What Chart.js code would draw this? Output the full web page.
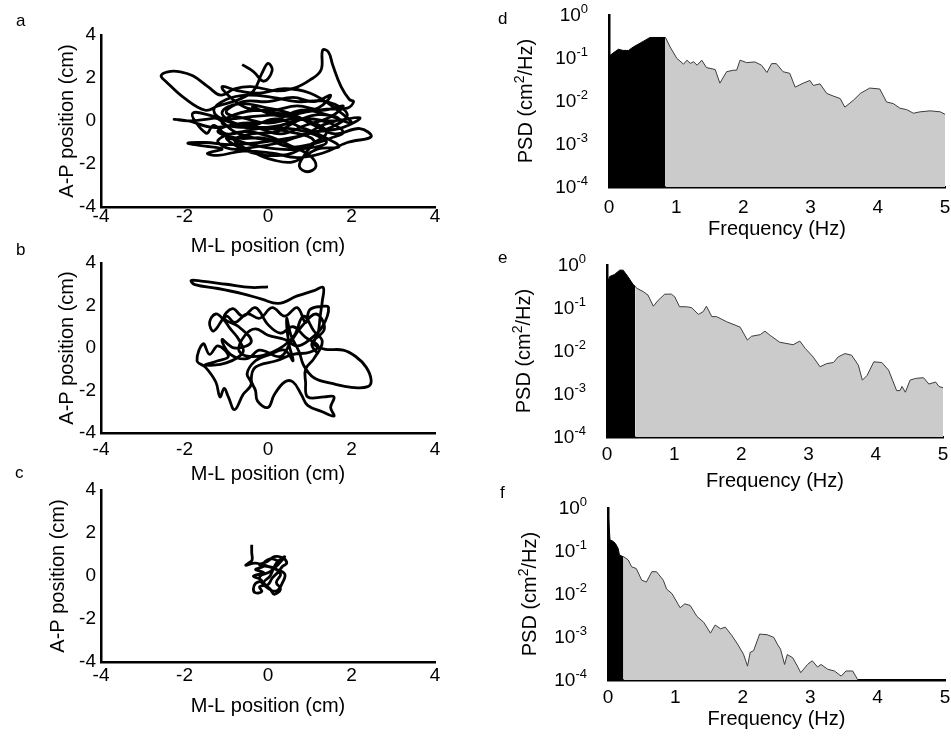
<!DOCTYPE html>
<html>
<head>
<meta charset="utf-8">
<script src="https://cdn.jsdelivr.net/npm/chart.js@4.4.1/dist/chart.umd.min.js"></script>
<style>
body { margin: 0; background: #fff; width: 951px; height: 737px; overflow: hidden; position: relative; font-family: "Liberation Sans", Arial, sans-serif; }
canvas { position: absolute; left: 0; top: 0; }
.letter { position: absolute; font-size: 17px; color: #000; line-height: 1; }
</style>
</head>
<body>
<canvas id="pa" width="951" height="737"></canvas>
<canvas id="pb" width="951" height="737"></canvas>
<canvas id="pc" width="951" height="737"></canvas>
<canvas id="pd" width="951" height="737"></canvas>
<canvas id="pe" width="951" height="737"></canvas>
<canvas id="pf" width="951" height="737"></canvas>
<div class="letter" style="left:16px;top:12px">a</div>
<div class="letter" style="left:16px;top:241px">b</div>
<div class="letter" style="left:15px;top:464px">c</div>
<div class="letter" style="left:498px;top:10px">d</div>
<div class="letter" style="left:498px;top:249px">e</div>
<div class="letter" style="left:500px;top:484px">f</div>
<script>
// tick labels
var trajTicks = [-4, -2, 0, 2, 4];
var freqTicks = [0, 1, 2, 3, 4, 5];
var psdExp = [0, -1, -2, -3, -4];

// a: COP trajectory (cm)
var aX = [-0.62,-0.35,-0.10,0.10,0.00,-0.15,-0.35,-0.70,-1.20,-1.50,-2.00,-2.44,-2.56,-2.40,-2.10,-1.80,-1.44,-1.13,-0.80,-0.40,
  0.20,0.63,1.00,1.27,1.31,1.45,1.55,1.75,1.95,2.05,1.90,1.40,0.80,0.20,-0.40,-1.00,-1.80,-1.48,-1.30,-1.00,
  -0.40,0.30,0.90,1.50,2.20,1.80,1.20,0.50,-0.20,-0.90,-1.50,-1.92,-1.60,-1.10,-1.45,-1.20,-0.60,0.10,0.70,1.30,
  1.90,2.47,2.20,1.60,1.10,0.60,0.00,-0.70,-1.10,-0.80,-0.20,0.50,1.10,0.90,0.75,0.95,1.15,1.00,0.60,0.00,
  -0.60,-1.20,-0.90,-0.30,0.30,0.90,1.50,1.90,1.40,0.70,0.10,-0.50,-1.00,-1.30,-1.00,-0.40,0.20,0.80,1.30,1.70,
  1.20,0.60,0.10,-0.30,-0.80,-0.40,0.20,0.70,1.20,1.70,1.30,0.80,0.30,-0.30,-0.80,-1.20,-1.40,-1.85,-2.25,-1.90,
  -1.30,-0.60,0.10,0.80,1.40,2.00,1.60,1.00,0.40,-0.20,-0.70,-1.10,-0.90,-0.50,0.10,0.70,1.30,1.80,1.50,0.90,
  0.30,-0.30,-0.90,-1.20,-0.70,-0.10,0.50,1.00,1.50,1.80,1.30,0.60,0.00,-0.50,-1.00,-0.60,0.00,0.60,1.10,1.50,
  1.20,0.50,-0.20,-0.80,-1.10,-0.60,0.20,0.90,1.40,0.80,0.20,-0.40,-1.00,-0.50,0.30,0.90,1.40,0.80,0.10,-0.40];
var aY = [2.62,2.30,1.85,2.35,2.68,2.20,1.40,1.00,0.70,0.50,1.06,1.83,2.10,2.29,2.29,2.10,1.60,1.20,1.50,1.60,
  1.40,1.53,1.90,2.37,3.30,3.20,2.60,1.60,1.00,0.90,0.60,0.55,0.40,0.30,0.20,0.10,0.37,-0.57,-0.20,-0.60,
  -0.40,-0.20,0.10,0.00,0.15,-0.30,-0.50,-0.80,-1.00,-1.10,-1.00,-1.03,-1.15,-1.30,-1.50,-1.60,-1.40,-1.50,-1.70,-1.50,
  -1.00,-0.73,-0.35,-0.60,-0.20,0.30,0.60,0.80,0.40,-0.10,-0.30,-0.50,-0.90,-1.50,-2.10,-2.36,-2.10,-1.60,-1.20,-0.70,
  -0.50,-0.90,-1.30,-1.20,-1.00,-0.60,-0.30,0.30,0.90,0.90,1.10,1.20,1.00,0.50,0.00,-0.20,0.10,-0.30,-0.70,-1.20,
  -1.30,-1.90,-1.80,-1.50,-0.90,-0.60,-0.50,0.00,0.30,0.10,-0.20,-0.70,-0.90,-0.80,-0.50,0.10,0.10,0.00,0.08,0.00,
  -0.30,-0.10,0.00,0.50,0.30,-0.10,0.60,1.30,1.50,1.30,1.40,1.60,1.10,0.60,0.50,0.70,0.50,0.70,0.20,-0.20,
  -0.60,-0.30,-0.20,-0.50,-0.80,-0.80,-1.20,-1.10,-0.80,-0.50,0.00,0.10,-0.10,0.10,0.40,0.90,0.90,1.10,0.90,1.20,
  0.60,0.30,0.50,0.30,-0.10,-0.30,-0.30,-0.50,-1.00,-1.30,-1.30,-1.10,-0.80,-1.40,-1.60,-1.20,-0.50,0.10,0.30,0.70];

// b
var bX = [0.00,-0.40,-1.00,-1.60,-1.84,-1.75,-1.20,-0.60,-0.15,0.25,0.70,1.10,1.32,1.30,1.25,1.20,1.10,1.35,1.80,2.10,
  2.35,2.47,2.39,2.00,1.60,1.10,0.85,0.75,0.55,0.45,0.50,0.60,0.40,0.05,-0.30,-0.50,-0.40,-0.60,-0.80,-0.95,
  -1.05,-1.15,-1.25,-1.50,-1.70,-1.55,-1.40,-1.20,-0.95,-1.20,-1.50,-1.00,-0.60,-0.70,-0.90,-1.05,-1.25,-1.40,-1.30,-1.00,
  -0.80,-0.50,-0.20,0.10,0.40,0.70,0.90,1.00,1.25,1.45,1.30,1.00,0.70,0.40,0.00,-0.30,-0.55,-0.70,-0.45,0.10,
  0.60,0.85,1.10,1.30,1.10,0.90,0.90,0.95,1.35,1.58,1.50,1.58,1.30,0.95,0.80,0.60,0.40,0.15,0.00,-0.25,
  -0.30,-0.40,-0.30,0.20,0.60,1.00,1.20,0.90,0.60,0.30,0.00,-0.30,-0.60,-0.85,-1.05,-0.70,-0.40,-0.80,-1.10,-0.90,
  -0.50,-0.20,0.30,0.55,0.80,1.15,1.35,1.05,1.20];
var bY = [2.88,2.85,3.00,3.15,3.18,2.98,2.80,2.55,2.30,2.10,2.45,2.70,2.85,2.20,1.50,0.70,0.20,-0.05,-0.10,-0.40,
  -0.90,-1.50,-1.82,-1.85,-1.70,-1.40,-0.80,-0.20,0.60,1.40,0.20,-0.60,-0.10,-0.30,-0.60,-1.20,-1.70,-2.20,-2.90,-2.30,
  -1.90,-2.30,-1.60,-0.90,-0.60,0.20,-0.30,0.10,-0.40,-0.60,-0.80,-0.70,-0.20,0.40,0.90,1.30,1.60,1.20,0.80,1.50,
  1.20,1.60,1.40,1.90,1.50,1.90,1.20,1.80,1.95,1.90,1.00,0.40,0.10,0.40,0.60,0.90,0.60,-0.10,-0.40,-0.20,
  0.50,1.50,0.80,0.30,-0.50,-1.00,-1.60,-2.30,-2.30,-2.30,-2.80,-3.20,-3.00,-2.70,-2.20,-1.60,-1.60,-2.20,-2.80,-2.50,
  -2.00,-1.50,-0.90,-0.60,-0.30,-0.20,0.10,0.50,1.00,0.70,1.10,1.90,1.50,1.85,1.40,1.00,0.30,0.00,0.40,-0.30,
  -0.50,-0.10,-0.40,0.30,1.00,1.60,0.90,0.20,-0.30];

// c
var cX = [-0.39,-0.39,-0.38,-0.45,-0.53,-0.30,-0.10,-0.30,-0.10,-0.35,-0.15,-0.30,-0.35,-0.30,-0.15,-0.20,0.00,0.10,0.25,0.35,
  0.45,0.35,0.15,0.00,-0.20,0.10,0.30,0.20,0.30,0.15,0.05,-0.10,0.05,0.20,0.40,0.25,0.05,-0.20,-0.05,0.20,
  0.35,0.40,0.15,-0.10,0.05,0.25];
var cY = [1.45,1.10,0.75,0.62,0.50,0.60,0.45,0.30,0.15,0.00,-0.20,-0.35,-0.60,-0.78,-0.72,-0.50,-0.40,-0.10,0.20,0.45,
  0.60,0.85,0.90,0.70,0.50,0.40,0.10,-0.30,-0.60,-0.85,-0.60,-0.30,0.00,0.60,0.90,0.55,0.20,-0.05,-0.50,-0.70,
  -0.30,0.10,0.35,0.55,0.80,0.70];

// d: PSD (cm^2/Hz), low band (black) and high band (grey)
var dLowF = [0.00,0.06,0.14,0.21,0.29,0.36,0.46,0.54,0.61,0.84];
var dLowP = [0.11,0.13,0.16,0.15,0.15,0.18,0.22,0.26,0.30,0.30];
var dHighF = [0.84,0.91,1.01,1.11,1.16,1.21,1.26,1.31,1.38,1.45,1.58,1.65,1.75,1.85,1.90,1.95,2.05,2.17,2.27,2.35,
  2.42,2.49,2.59,2.69,2.77,2.89,2.99,3.04,3.14,3.24,3.34,3.44,3.51,3.64,3.74,3.88,4.03,4.13,4.23,4.33,
  4.43,4.53,4.63,4.78,4.93,5.00];
var dHighP = [0.30,0.18,0.098,0.072,0.089,0.075,0.082,0.068,0.089,0.060,0.054,0.026,0.048,0.052,0.052,0.089,0.078,0.081,0.068,0.046,
  0.074,0.074,0.048,0.044,0.021,0.026,0.030,0.023,0.025,0.015,0.013,0.0114,0.0072,0.0105,0.015,0.020,0.019,0.0095,0.0087,0.0068,
  0.0063,0.0052,0.0056,0.0059,0.0056,0.0049];

// e
var eLowF = [0.00,0.04,0.11,0.19,0.24,0.31,0.39,0.42];
var eLowP = [0.37,0.54,0.60,0.76,0.76,0.54,0.35,0.32];
var eHighF = [0.42,0.44,0.54,0.61,0.69,0.76,0.86,0.96,1.01,1.08,1.18,1.26,1.36,1.43,1.48,1.56,1.63,1.78,1.98,2.09,
  2.15,2.28,2.35,2.43,2.57,2.77,2.87,2.95,3.07,3.17,3.27,3.37,3.44,3.54,3.64,3.74,3.80,3.87,3.97,4.09,
  4.19,4.26,4.31,4.36,4.39,4.44,4.51,4.59,4.71,4.79,4.89,4.94,5.00];
var eHighP = [0.32,0.29,0.24,0.20,0.11,0.15,0.21,0.21,0.18,0.107,0.107,0.102,0.071,0.082,0.11,0.063,0.063,0.048,0.036,0.018,
  0.022,0.024,0.029,0.023,0.016,0.014,0.017,0.0115,0.0072,0.0043,0.0051,0.0054,0.0073,0.0087,0.0080,0.0047,0.0021,0.0027,0.0056,0.0054,
  0.0036,0.0019,0.0012,0.0012,0.0015,0.0011,0.0021,0.0023,0.0024,0.0017,0.0019,0.0015,0.0014];

// f
var fLowF = [0.00,0.03,0.07,0.11,0.15,0.17,0.22,0.23];
var fLowP = [0.90,0.18,0.17,0.15,0.115,0.081,0.074,0.074];
var fHighF = [0.23,0.30,0.35,0.42,0.50,0.57,0.65,0.72,0.82,0.87,0.95,1.07,1.14,1.22,1.32,1.42,1.52,1.59,1.67,1.74,
  1.84,1.92,2.01,2.07,2.11,2.16,2.25,2.36,2.46,2.51,2.56,2.62,2.66,2.74,2.81,2.86,2.96,3.03,3.11,3.16,
  3.26,3.36,3.46,3.53,3.63,3.70,3.75,5.00];
var fHighP = [0.074,0.062,0.043,0.039,0.021,0.019,0.033,0.033,0.021,0.013,0.0102,0.0048,0.0059,0.0054,0.0030,0.0022,0.00123,0.0019,0.00155,0.0017,
  0.00107,0.00069,0.00040,0.00021,0.00044,0.00048,0.00117,0.00113,0.00098,0.00069,0.00052,0.00023,0.00039,0.00033,0.00021,0.000148,0.00023,0.00028,0.00020,0.00023,
  0.000178,0.000162,0.000123,0.000162,0.000162,0.000105,0.00008,0.00008];

var FONT = '"Liberation Sans", Arial, sans-serif';

function pts(xs, ys) {
    return xs.map(function(x, i) { return {x: x, y: ys[i]}; });
}

// draws tick labels and axis titles from the chart's own scales
var axisText = {
    id: 'axisText',
    afterDraw: function(chart, args, o) {
        var ctx = chart.ctx, xs = chart.scales.x, ys = chart.scales.y;
        ctx.save();
        ctx.fillStyle = '#000';
        ctx.textBaseline = 'middle';
        ctx.font = '19px ' + FONT;
        ctx.textAlign = 'center';
        o.xTicks.forEach(function(v) {
            ctx.fillText(String(v), xs.getPixelForValue(v), o.xTickY);
        });
        var right = xs.left - o.yGap;
        if (o.log) {
            o.yTicks.forEach(function(p) {
                var y = ys.getPixelForValue(Math.pow(10, p));
                ctx.font = '13px ' + FONT;
                var e = String(p);
                var ew = ctx.measureText(e).width;
                ctx.textAlign = 'right';
                ctx.fillText(e, right, y - 6);
                ctx.font = '19px ' + FONT;
                ctx.fillText('10', right - ew, y + 1);
            });
        } else {
            ctx.textAlign = 'right';
            o.yTicks.forEach(function(v) {
                ctx.fillText(String(v), right, ys.getPixelForValue(v));
            });
        }
        ctx.font = '20px ' + FONT;
        ctx.textAlign = 'center';
        ctx.fillText(o.xTitle, (xs.left + xs.right) / 2, o.xTitleY);
        ctx.translate(o.yTitleX, (ys.top + ys.bottom) / 2);
        ctx.rotate(-Math.PI / 2);
        if (o.log) {
            // PSD (cm^2/Hz) with a raised 2
            var p1 = 'PSD (cm', p2 = '2', p3 = '/Hz)';
            var w1 = ctx.measureText(p1).width, w3 = ctx.measureText(p3).width;
            ctx.font = '14px ' + FONT;
            var w2 = ctx.measureText(p2).width;
            var x0 = -(w1 + w2 + w3) / 2;
            ctx.textAlign = 'left';
            ctx.fillText(p2, x0 + w1, -6);
            ctx.font = '20px ' + FONT;
            ctx.fillText(p1, x0, 0);
            ctx.fillText(p3, x0 + w1 + w2, 0);
        } else {
            ctx.fillText(o.yTitle, 0, 0);
        }
        ctx.restore();
    }
};

function axis(type, min, max) {
    return {
        type: type, min: min, max: max,
        grid: {display: false, drawTicks: false},
        border: {display: true, width: 2.5, color: '#000'},
        ticks: {display: false},
        afterFit: function(s) { if (s.isHorizontal()) s.height = 0; else s.width = 0; }
    };
}

function box(b) {
    return {padding: {left: b[0], right: 951 - b[1], top: b[2], bottom: 737 - b[3]}};
}

function trajChart(id, b, xs, ys, lab) {
    return new Chart(document.getElementById(id), {
        type: 'scatter',
        data: {datasets: [{
            data: pts(xs, ys),
            showLine: true,
            borderColor: '#000',
            borderWidth: 2.8,
            pointRadius: 0,
            tension: 0.4
        }]},
        options: {
            responsive: false, animation: false, events: [],
            layout: box(b),
            scales: {x: axis('linear', -4, 4), y: axis('linear', -4, 4)},
            plugins: {
                legend: {display: false}, tooltip: {enabled: false},
                axisText: Object.assign({
                    xTicks: trajTicks, yTicks: trajTicks, log: false, yGap: 5,
                    xTitle: 'M-L position (cm)', yTitle: 'A-P position (cm)'
                }, lab)
            }
        },
        plugins: [axisText]
    });
}

function psdChart(id, b, lf, lp, hf, hp, lab) {
    return new Chart(document.getElementById(id), {
        type: 'line',
        data: {datasets: [{
            data: pts(hf, hp),
            fill: 'start',
            backgroundColor: '#cbcbcb',
            borderColor: '#3c3c3c',
            borderWidth: 1,
            pointRadius: 0,
            tension: 0
        }, {
            data: pts(lf, lp),
            fill: 'start',
            backgroundColor: '#000',
            borderColor: '#000',
            borderWidth: 1,
            pointRadius: 0,
            tension: 0
        }]},
        options: {
            responsive: false, animation: false, events: [],
            layout: box(b),
            scales: {x: axis('linear', 0, 5), y: axis('logarithmic', 0.0001, 1)},
            plugins: {
                legend: {display: false}, tooltip: {enabled: false},
                axisText: Object.assign({
                    xTicks: freqTicks, yTicks: psdExp, log: true, yGap: 21,
                    xTitle: 'Frequency (Hz)', yTitle: 'PSD (cm²/Hz)'
                }, lab)
            }
        },
        plugins: [axisText]
    });
}

trajChart('pa', [101, 435, 35, 207], aX, aY, {xTickY: 217, xTitleY: 246, yTitleX: 67});
trajChart('pb', [101, 435, 263, 433], bX, bY, {xTickY: 450, xTitleY: 474, yTitleX: 67});
trajChart('pc', [101, 435, 490, 662], cX, cY, {xTickY: 676, xTitleY: 706, yTitleX: 58});

psdChart('pd', [609, 945, 15, 187], dLowF, dLowP, dHighF, dHighP, {xTickY: 208, xTitleY: 229, yTitleX: 526});
psdChart('pe', [607, 943, 265, 437], eLowF, eLowP, eHighF, eHighP, {xTickY: 455, xTitleY: 481, yTitleX: 524});
psdChart('pf', [608, 945, 508, 680], fLowF, fLowP, fHighF, fHighP, {xTickY: 698, xTitleY: 719, yTitleX: 530});
</script>
</body>
</html>
